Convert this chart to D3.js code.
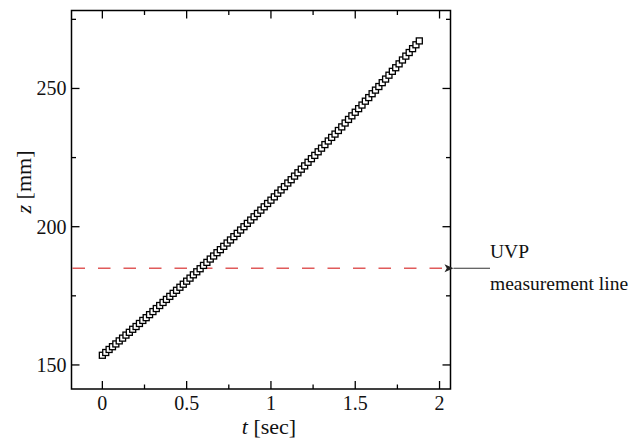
<!DOCTYPE html>
<html>
<head>
<meta charset="utf-8">
<script src="https://cdn.jsdelivr.net/npm/d3@7"></script>
<style>
  html, body { margin: 0; padding: 0; background: #fff; }
  svg { display: block; }
  text { font-family: "Liberation Serif", "DejaVu Serif", serif; fill: #111; }
</style>
</head>
<body>
<svg id="chart" width="643" height="442"></svg>
<script>
// Time samples [sec] and measured interface position z [mm]
const times = [
  0.00, 0.02, 0.04, 0.06, 0.08, 0.10, 0.12, 0.14, 0.16, 0.18,
  0.20, 0.22, 0.24, 0.26, 0.28, 0.30, 0.32, 0.34, 0.36, 0.38,
  0.40, 0.42, 0.44, 0.46, 0.48, 0.50, 0.52, 0.54, 0.56, 0.58,
  0.60, 0.62, 0.64, 0.66, 0.68, 0.70, 0.72, 0.74, 0.76, 0.78,
  0.80, 0.82, 0.84, 0.86, 0.88, 0.90, 0.92, 0.94, 0.96, 0.98,
  1.00, 1.02, 1.04, 1.06, 1.08, 1.10, 1.12, 1.14, 1.16, 1.18,
  1.20, 1.22, 1.24, 1.26, 1.28, 1.30, 1.32, 1.34, 1.36, 1.38,
  1.40, 1.42, 1.44, 1.46, 1.48, 1.50, 1.52, 1.54, 1.56, 1.58,
  1.60, 1.62, 1.64, 1.66, 1.68, 1.70, 1.72, 1.74, 1.76, 1.78,
  1.80, 1.82, 1.84, 1.86, 1.88
];
const zValues = [
  153.5, 154.5, 155.6, 156.6, 157.6, 158.7, 159.7, 160.8, 161.8, 162.9,
  163.9, 165.0, 166.1, 167.1, 168.2, 169.3, 170.4, 171.5, 172.6, 173.7,
  174.8, 175.9, 177.0, 178.1, 179.2, 180.3, 181.4, 182.6, 183.7, 184.8,
  186.0, 187.1, 188.3, 189.4, 190.6, 191.7, 192.9, 194.1, 195.2, 196.4,
  197.6, 198.8, 200.0, 201.2, 202.4, 203.6, 204.8, 206.0, 207.2, 208.4,
  209.6, 210.8, 212.1, 213.3, 214.5, 215.8, 217.0, 218.3, 219.5, 220.8,
  222.0, 223.3, 224.6, 225.8, 227.1, 228.4, 229.7, 231.0, 232.3, 233.5,
  234.8, 236.1, 237.5, 238.8, 240.1, 241.4, 242.7, 244.0, 245.4, 246.7,
  248.1, 249.4, 250.7, 252.1, 253.4, 254.8, 256.2, 257.5, 258.9, 260.3,
  261.7, 263.0, 264.4, 265.8, 267.2
];

// Axis ticks
const xMajorTicks = [0, 0.5, 1, 1.5, 2];
const xTickLabels = ["0", "0.5", "1", "1.5", "2"];
const xMinorTicks = [0.25, 0.75, 1.25, 1.75];
const yMajorTicks = [150, 200, 250];
const yTickLabels = ["150", "200", "250"];
const yMinorTicks = [175, 225, 275];

// UVP measurement position
const uvpLevel = [185];

const svg = d3.select("#chart");
const plotL = 71.5, plotR = 450.5, plotT = 10.5, plotB = 389;

const x = d3.scaleLinear().domain([-0.183, 2.065]).range([plotL, plotR]);
const y = d3.scaleLinear().domain([141.3, 278.2]).range([plotB, plotT]);

const majorLen = 8, minorLen = 4.5;

// Inward ticks on all four sides
const ticks = svg.append("g").attr("stroke", "#000").attr("stroke-width", 1.3);
function xTicks(vals, len) {
  vals.forEach(v => {
    ticks.append("line").attr("x1", x(v)).attr("x2", x(v)).attr("y1", plotB).attr("y2", plotB - len);
    ticks.append("line").attr("x1", x(v)).attr("x2", x(v)).attr("y1", plotT).attr("y2", plotT + len);
  });
}
function yTicks(vals, len) {
  vals.forEach(v => {
    ticks.append("line").attr("y1", y(v)).attr("y2", y(v)).attr("x1", plotL).attr("x2", plotL + len);
    ticks.append("line").attr("y1", y(v)).attr("y2", y(v)).attr("x1", plotR).attr("x2", plotR - len);
  });
}
xTicks(xMajorTicks, majorLen);
xTicks(xMinorTicks, minorLen);
yTicks(yMajorTicks, majorLen);
yTicks(yMinorTicks, minorLen);

// Tick labels
svg.append("g").selectAll("text").data(xMajorTicks).join("text")
  .attr("x", d => x(d)).attr("y", plotB + 21)
  .attr("text-anchor", "middle").attr("font-size", 20)
  .text((d, i) => xTickLabels[i]);

svg.append("g").selectAll("text").data(yMajorTicks).join("text")
  .attr("x", plotL - 5).attr("y", d => y(d) + 7)
  .attr("text-anchor", "end").attr("font-size", 20)
  .text((d, i) => yTickLabels[i]);

// Axis titles
const xt = svg.append("text").attr("x", 269).attr("y", 434)
  .attr("text-anchor", "middle").attr("font-size", 22);
xt.append("tspan").attr("font-style", "italic").text("t");
xt.append("tspan").text(" [sec]");

const yt = svg.append("text")
  .attr("transform", "translate(31,182) rotate(-90)")
  .attr("text-anchor", "middle").attr("font-size", 22);
yt.append("tspan").attr("font-style", "italic").text("z");
yt.append("tspan").text(" [mm]");

// Dashed UVP line
svg.append("g").selectAll("line").data(uvpLevel).join("line")
  .attr("x1", plotL + 1).attr("x2", plotR - 1)
  .attr("y1", d => y(d)).attr("y2", d => y(d))
  .attr("stroke", "#e05a5a").attr("stroke-width", 1.4)
  .attr("stroke-dasharray", "12.5,13");

// Data markers (open squares)
const s = 6;
svg.append("g").selectAll("rect").data(times).join("rect")
  .attr("x", d => x(d) - s / 2)
  .attr("y", (d, i) => y(zValues[i]) - s / 2)
  .attr("width", s).attr("height", s)
  .attr("fill", "#fff").attr("stroke", "#000").attr("stroke-width", 1.3);

// Frame
svg.append("rect").attr("x", plotL).attr("y", plotT)
  .attr("width", plotR - plotL).attr("height", plotB - plotT)
  .attr("fill", "none").attr("stroke", "#000").attr("stroke-width", 1.5);

// Annotation arrow and text
const defs = svg.append("defs");
defs.append("marker").attr("id", "arrowhead")
  .attr("viewBox", "0 0 10 10").attr("refX", 0).attr("refY", 5)
  .attr("markerWidth", 10).attr("markerHeight", 9).attr("orient", "auto-start-reverse")
  .attr("markerUnits", "userSpaceOnUse")
  .append("path").attr("d", "M0,5 L10,0.5 L7.5,5 L10,9.5 Z").attr("fill", "#222");

svg.append("line")
  .attr("x1", plotR + 3).attr("x2", 490)
  .attr("y1", y(uvpLevel[0])).attr("y2", y(uvpLevel[0]))
  .attr("stroke", "#333").attr("stroke-width", 1.1)
  .attr("marker-start", "url(#arrowhead)");

svg.append("text").attr("x", 490).attr("y", 258).attr("font-size", 19.5).text("UVP");
svg.append("text").attr("x", 490).attr("y", 290).attr("font-size", 19.5).text("measurement line");
</script>
</body>
</html>
